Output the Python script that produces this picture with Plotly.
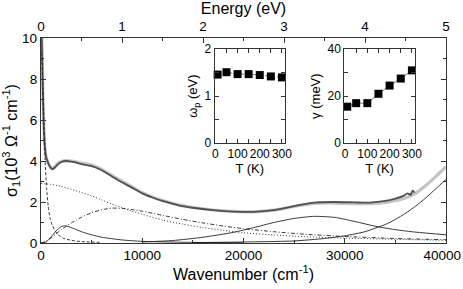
import plotly.graph_objects as go

# ---------------- data ----------------
# measured sigma_1 (dark, one temperature)
meas_w = [30, 60, 100, 150, 200, 300, 400, 500, 600, 800, 1000, 1150, 1400, 1700, 2000, 2500, 3000, 3500,
          4000, 5000, 5800, 6500, 7500, 8800, 10000, 11000, 12000, 13500, 15000, 17000, 19000, 21000,
          23000, 25000, 27000, 29000, 31000, 32500, 34000, 35000, 35800, 36200, 36500, 36700, 36900]
meas_s = [11.0, 10.3, 9.5, 8.3, 7.0, 5.4, 4.6, 4.2, 4.05, 3.8, 3.65, 3.6, 3.7, 3.85, 3.95, 4.0, 3.97, 3.92,
          3.85, 3.75, 3.6, 3.4, 3.1, 2.75, 2.42, 2.22, 2.05, 1.85, 1.72, 1.6, 1.53, 1.52,
          1.6, 1.8, 1.97, 2.0, 1.98, 1.97, 2.05, 2.17, 2.3, 2.42, 2.35, 2.55, 2.45]
# measured sigma_1 (light grey, other temperature)
meas2_w = [30, 60, 100, 150, 200, 300, 400, 500, 600, 800, 1000, 1150, 1400, 1700, 2000, 2500, 3000, 3500,
           4000, 5000, 5800, 6500, 7500, 8800, 10000, 11000, 12000, 13500, 15000, 17000, 19000, 21000,
           23000, 25000, 27000, 29000, 31000, 33000, 34500, 36000, 37000, 38000, 39000, 40000]
meas2_s = [11.0, 10.3, 9.5, 8.3, 7.0, 5.4, 4.6, 4.2, 4.05, 3.8, 3.65, 3.62, 3.74, 3.9, 3.98, 4.02, 4.0, 3.96,
           3.9, 3.8, 3.65, 3.45, 3.15, 2.8, 2.46, 2.25, 2.07, 1.87, 1.73, 1.61, 1.54, 1.52,
           1.6, 1.78, 1.93, 1.95, 1.92, 1.93, 2.02, 2.2, 2.42, 2.8, 3.25, 3.72]
# Drude component (dashed)
drude_w = [0, 100, 170, 250, 400, 550, 720, 900, 1100, 1390, 1700, 2200, 3000, 4000, 6000]
drude_s = [9.3, 8.8, 7.9, 6.4, 4.05, 2.7, 1.77, 1.2, 0.88, 0.6, 0.4, 0.23, 0.13, 0.07, 0.03]
# broad component (dotted)
broad_w = [0, 1000, 2000, 3000, 4000, 5000, 6000, 7000, 8000, 9000, 10000, 12000, 14000, 16000, 18000,
           20000, 23000, 26000, 30000, 35000, 40000]
broad_s = [2.9, 2.86, 2.76, 2.62, 2.46, 2.3, 2.1, 1.9, 1.72, 1.55, 1.4, 1.12, 0.92, 0.75, 0.62,
           0.5, 0.39, 0.31, 0.24, 0.18, 0.13]
# mid-IR component (dash-dot)
mir_w = [0, 500, 1000, 1500, 2000, 2500, 3000, 3500, 4000, 5000, 6000, 7000, 8000, 9000, 10000, 12000,
         14000, 16000, 18000, 20000, 23000, 26000, 30000, 35000, 40000]
mir_s = [0.0, 0.08, 0.25, 0.45, 0.65, 0.82, 0.98, 1.12, 1.26, 1.48, 1.62, 1.7, 1.69, 1.63, 1.55, 1.35,
         1.15, 0.98, 0.83, 0.7, 0.55, 0.43, 0.32, 0.22, 0.16]
# small near-IR peak (solid)
nir_w = [0, 500, 1000, 1500, 2000, 2400, 3000, 4000, 5000, 6000, 8000, 10000, 15000, 20000]
nir_s = [0.0, 0.05, 0.3, 0.6, 0.8, 0.84, 0.75, 0.55, 0.4, 0.28, 0.15, 0.08, 0.03, 0.01]
# visible peak (solid)
vis_w = [10000, 13000, 16000, 19000, 21000, 23000, 25000, 27000, 29000, 31000, 33000, 35000, 37000, 40000]
vis_s = [0.05, 0.12, 0.28, 0.52, 0.75, 1.0, 1.2, 1.3, 1.25, 1.05, 0.82, 0.65, 0.53, 0.4]
# UV tail (solid)
uv_w = [15000, 20000, 25000, 28000, 30000, 32000, 33000, 34000, 35000, 36000, 37000, 38000, 39000, 40000]
uv_s = [0.02, 0.05, 0.1, 0.22, 0.35, 0.55, 0.72, 0.9, 1.15, 1.45, 1.8, 2.2, 2.65, 3.1]
# tick labels
wn_ticks = [0, 10000, 20000, 30000, 40000]
wn_labels = ["0", "10000", "20000", "30000", "40000\u00a0\u00a0"]
ev_ticks = [0, 1, 2, 3, 4, 5]
sig_ticks = [0, 2, 4, 6, 8, 10]
# inset data
temps = [10, 50, 100, 150, 200, 250, 300]
omega_p = [1.46, 1.51, 1.47, 1.47, 1.45, 1.42, 1.40]
gamma = [15.5, 17.0, 17.0, 21.0, 24.5, 27.5, 31.0]

FONT = "Liberation Sans, Arial, Helvetica, sans-serif"
AX = "#333333"

fig = go.Figure()

fig.add_trace(go.Scatter(x=meas2_w, y=meas2_s, mode="lines", line=dict(color="#c4c4c4", width=3.2, shape="spline", smoothing=0.6), hoverinfo="skip"))
fig.add_trace(go.Scatter(x=meas_w, y=meas_s, mode="lines", line=dict(color="#505050", width=1.8, shape="spline", smoothing=0.6), hoverinfo="skip"))
for xs, ys, dash in [(drude_w, drude_s, "3px,2px"), (broad_w, broad_s, "1px,2px"), (mir_w, mir_s, "4px,2px,1px,2px"),
                     (nir_w, nir_s, "solid"), (vis_w, vis_s, "solid"), (uv_w, uv_s, "solid")]:
    fig.add_trace(go.Scatter(x=xs, y=ys, mode="lines",
                             line=dict(color="#222222", width=0.9, dash=dash, shape="spline", smoothing=0.6),
                             hoverinfo="skip"))

# dummy trace for top axis
fig.add_trace(go.Scatter(x=[0, 5], y=[None, None], xaxis="x2", yaxis="y", mode="lines", showlegend=False))

fig.add_trace(go.Scatter(x=temps, y=omega_p, xaxis="x3", yaxis="y3", mode="lines+markers", cliponaxis=False,
                         line=dict(color="#555555", width=0.8, dash="dot"),
                         marker=dict(symbol="square", size=8, color="black")))
fig.add_trace(go.Scatter(x=temps, y=gamma, xaxis="x4", yaxis="y4", mode="lines+markers", cliponaxis=False,
                         line=dict(color="#555555", width=0.8),
                         marker=dict(symbol="square", size=8, color="black")))

common = dict(showgrid=False, zeroline=False, ticks="inside", linecolor=AX, linewidth=1.3, tickcolor=AX,
              automargin=False, ticklabeloverflow="allow", tickfont=dict(family=FONT, size=13.5, color="black"))

fig.update_layout(
    width=463, height=289, showlegend=False,
    margin=dict(l=41, r=17, t=38, b=46),
    paper_bgcolor="white", plot_bgcolor="white",
    font=dict(family=FONT, color="black"),
    xaxis=dict(range=[0, 40000], tickvals=wn_ticks, ticktext=wn_labels, ticklen=5,
               minor=dict(tickvals=[5000, 15000, 25000, 35000], ticklen=3, ticks="inside", tickcolor=AX),
               title=dict(text="Wavenumber (cm<sup>-1</sup>)", font=dict(size=16), standoff=6), **common),
    xaxis2=dict(range=[0, 5], overlaying="x", side="top", anchor="y", tickvals=ev_ticks, ticklen=5,
                minor=dict(tickvals=[0.5, 1.5, 2.5, 3.5, 4.5], ticklen=3, ticks="inside", tickcolor=AX),
                title=dict(text="Energy (eV)", font=dict(size=16), standoff=4), **common),
    yaxis=dict(range=[0, 10], tickvals=sig_ticks, ticklen=5, mirror="ticks",
               minor=dict(tickvals=[1, 3, 5, 7, 9], ticklen=3, ticks="inside", tickcolor=AX),
               title=dict(text="σ<sub>1</sub>(10<sup>3</sup> Ω<sup>-1</sup> cm<sup>-1</sup>)", font=dict(size=16), standoff=6),
               **common),
)

ins_common = dict(showgrid=False, zeroline=False, ticks="inside", linecolor=AX, linewidth=1.2, tickcolor=AX,
                  automargin=False, mirror="ticks", tickfont=dict(family=FONT, size=12, color="black"))
for i, (dom, yr, yt, ym, ytitle) in enumerate([
        ([0.429, 0.602], [0, 2], [0, 1, 2], [0.5, 1.5], "ω<sub>p</sub> (eV)"),
        ([0.749, 0.923], [0, 40], [0, 20, 40], [10, 30], "γ (meV)")]):
    xn, yn = 3 + i, 3 + i
    fig.update_layout(**{
        f"xaxis{xn}": dict(domain=dom, range=[-3, 313], anchor=f"y{yn}", tickvals=[0, 100, 200, 300], ticklen=4,
                           tickangle=0,
                           minor=dict(tickvals=[50, 150, 250], ticklen=4, ticks="inside", tickcolor=AX),
                           title=dict(text="T (K)", font=dict(size=13), standoff=2), **ins_common),
        f"yaxis{yn}": dict(domain=[0.488, 0.945], range=yr, anchor=f"x{xn}", tickvals=yt, ticklen=4,
                           minor=dict(tickvals=ym, ticklen=4, ticks="inside", tickcolor=AX),
                           title=dict(text=ytitle, font=dict(size=13), standoff=3), **ins_common),
    })

fig.write_html("out.html", config={"displayModeBar": False},
               post_script="document.body.style.margin='0';document.body.style.padding='0';")
